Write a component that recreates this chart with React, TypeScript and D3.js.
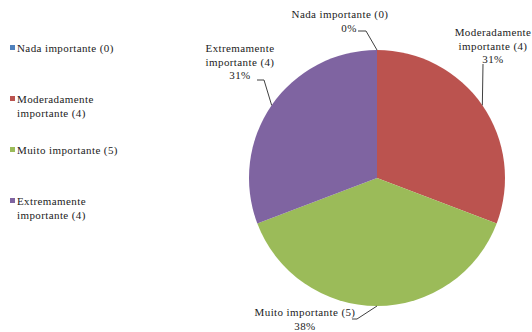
import React from "react";
import * as d3 from "d3";

const categories = ["Nada importante (0)", "Moderadamente importante (4)", "Muito importante (5)", "Extremamente importante (4)"];
const values = [0, 4, 5, 4];
const colors = ["#4f81bd", "#bb534f", "#9bbb59", "#7f64a1"];
const legendLines = [["Nada importante (0)"], ["Moderadamente", "importante (4)"], ["Muito importante (5)"], ["Extremamente", "importante (4)"]];
const labelLines = [["Nada importante (0)"], ["Moderadamente", "importante (4)"], ["Muito importante (5)"], ["Extremamente", "importante (4)"]];

const labelLayout = [
  { x: 340, y: 18, pctDx: 9, leader: [[358, 31], [366, 31]] },
  { x: 493, y: 36, pctDx: 0, leader: [[483, 64]] },
  { x: 305, y: 316, pctDx: 0, leader: [[352, 319], [357, 319]] },
  { x: 240, y: 52, pctDx: 0, leader: [[257, 80], [264, 80]] },
];

export default function App() {
  const W = 532, H = 332;
  const cx = 377, cy = 178, r = 128;
  const total = d3.sum(values);
  const pie = d3.pie<number>().sort(null).startAngle(0).endAngle(2 * Math.PI).value((d) => d);
  const arcs = pie(values);
  const arc = d3.arc<d3.PieArcDatum<number>>().innerRadius(0).outerRadius(r);
  const edge = d3.arc<d3.PieArcDatum<number>>().innerRadius(r).outerRadius(r);
  const pct = (v: number) => `${Math.round((v / total) * 100)}%`;
  const ts = { fontFamily: '"Liberation Serif"', fontSize: "11px", letterSpacing: "0.4px" };
  const lh = 13.5;
  const legendY = [52, 103, 154, 205];

  return (
    <svg width={W} height={H} style={{ position: "absolute", left: 0, top: 0, background: "#fff" }}>
      <g transform={`translate(${cx},${cy})`}>
        {arcs.map((a, i) => (
          <path key={i} d={arc(a) || ""} fill={colors[i]} />
        ))}
      </g>
      {arcs.map((a, i) => {
        const L = labelLayout[i];
        const [ex, ey] = edge.centroid(a);
        const lines = labelLines[i];
        const pts = [...L.leader, [cx + ex, cy + ey]];
        const line = d3.line()(pts as [number, number][]);
        return (
          <g key={i}>
            <path d={line || ""} fill="none" stroke="#404040" strokeWidth={1} />
            {lines.map((t, k) => (
              <text key={k} x={L.x} y={L.y + k * lh} textAnchor="middle" fill="#222" style={ts}>
                {t}
              </text>
            ))}
            <text x={L.x + L.pctDx} y={L.y + lines.length * lh} textAnchor="middle" fill="#222" style={ts}>
              {pct(values[i])}
            </text>
          </g>
        );
      })}
      {categories.map((c, i) => (
        <g key={c}>
          <rect x={10} y={legendY[i] - 7} width={5} height={5} fill={colors[i]} />
          {legendLines[i].map((t, k) => (
            <text key={k} x={17} y={legendY[i] + k * lh} fill="#222" style={ts}>
              {t}
            </text>
          ))}
        </g>
      ))}
    </svg>
  );
}
